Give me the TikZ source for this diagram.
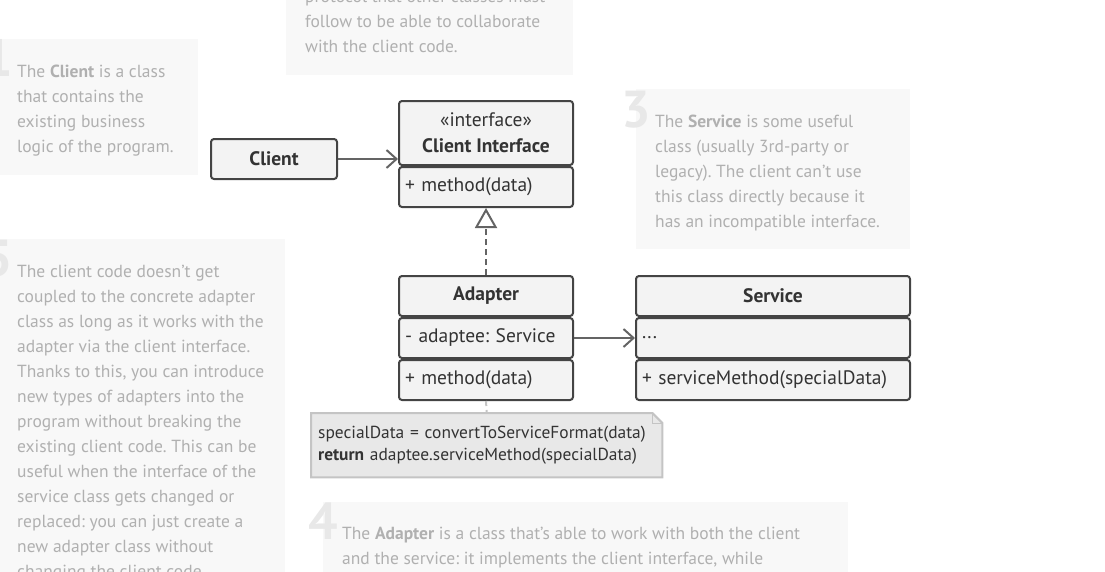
\documentclass[tikz,border=0pt]{standalone}
\usepackage{fontspec}
\setmainfont{PT Sans}
\usetikzlibrary{arrows.meta,positioning,backgrounds}

\definecolor{annofill}{RGB}{248,248,248}
\definecolor{annotext}{RGB}{176,176,176}
\definecolor{annodigit}{RGB}{232,232,232}
\definecolor{clsfill}{RGB}{243,243,243}
\definecolor{clsline}{RGB}{68,68,68}
\definecolor{clstext}{RGB}{51,51,51}
\definecolor{linkline}{RGB}{100,100,100}
\definecolor{notefill}{RGB}{232,232,232}
\definecolor{noteline}{RGB}{196,196,196}

\tikzset{
  annobox/.style={fill=annofill, draw=none},
  annotxt/.style={anchor=north west, inner sep=0, align=left, text=annotext,
    font=\fontsize{17.5}{25}\selectfont},
  annonum/.style={anchor=base east, inner sep=0, text=annodigit,
    font=\fontsize{52}{52}\selectfont\bfseries},
  cls/.style={draw=clsline, fill=clsfill, line width=2, rounded corners=3,
    minimum width=174, minimum height=40, inner sep=0, text=clstext,
    font=\fontsize{19.5}{26}\selectfont},
  clshead/.style={cls, font=\fontsize{19.5}{26}\selectfont\bfseries},
  clsrow/.style={cls, align=left, text width=162, inner xsep=6},
  notetxt/.style={anchor=north west, minimum height=64, text width=337,
    inner xsep=7, inner ysep=0, align=left, text=clstext,
    font=\fontsize{17.4}{22}\selectfont},
  link/.style={draw=linkline, line width=2},
}

\begin{document}
\frenchspacing
\begin{tikzpicture}[x=1pt, y=-1pt]
  \useasboundingbox (0,0) rectangle (1105,571);
  \clip (0,0) rectangle (1105,571);

  % notes round the diagram
  \fill[annobox] (286,-20) rectangle (573,75);
  \node[annotxt] (txttwo) at (305,-10) {protocol that other classes must\\
    follow to be able to collaborate\\with the client code.};

  \fill[annobox] (0,39) rectangle (198,175);
  \node[annonum] (numone) at (13,76) {1};
  \node[annotxt] (txtone) at (17,65) {The \textbf{Client} is a class\\
    that contains the\\existing business\\logic of the program.};

  \fill[annobox] (636,89) rectangle (910,249);
  \node[annonum] (numthree) at (651,127) {3};
  \node[annotxt] (txtthree) at (655,115) {The \textbf{Service} is some useful\\
    class (usually 3rd-party or\\legacy). The client can’t use\\
    this class directly because it\\has an incompatible interface.};

  \fill[annobox] (0,239) rectangle (285,600);
  \node[annonum] (numfive) at (13,276) {5};
  \node[annotxt] (txtfive) at (17,265) {The client code doesn’t get\\
    coupled to the concrete adapter\\class as long as it works with the\\
    adapter via the client interface.\\Thanks to this, you can introduce\\
    new types of adapters into the\\program without breaking the\\
    existing client code. This can be\\useful when the interface of the\\
    service class gets changed or\\replaced: you can just create a\\
    new adapter class without\\changing the client code.};

  \fill[annobox] (323,502) rectangle (848,600);
  \node[annonum] (numfour) at (338,539) {4};
  \node[annotxt] (txtfour) at (342,527) {The \textbf{Adapter} is a class that’s able to work with both the client\\
    and the service: it implements the client interface, while};

  % classes
  \node[clshead, minimum width=126] (client) at (274,159) {Client};

  \node[cls, minimum height=64, align=center] (cihead) at (486,133)
    {«interface»\\\textbf{Client Interface}};
  \node[clsrow, below=0 of cihead] (cimeth) {+ method(data)};

  \node[clshead] (adhead) at (486,296) {Adapter};
  \node[clsrow, below=0 of adhead] (adattr) {- adaptee: Service};
  \node[clsrow, below=0 of adattr] (admeth) {+ method(data)};

  \node[clshead, minimum width=274] (svhead) at (773,296) {Service};
  \node[clsrow, text width=262, below=0 of svhead] (svattr) {...};
  \node[clsrow, text width=262, below=0 of svattr] (svmeth) {+ serviceMethod(specialData)};

  % code note
  \node[notetxt] (note) at (311,413) {specialData = convertToServiceFormat(data)\\
    \textbf{return} adaptee.serviceMethod(specialData)};
  \begin{scope}[on background layer]
    \filldraw[fill=notefill, draw=noteline, line width=2]
      (note.north west) -- ([xshift=-10pt]note.north east)
      -- ([yshift=-10pt]note.north east) -- (note.south east)
      -- (note.south west) -- cycle;
    \draw[noteline, line width=1] ([xshift=-10pt]note.north east)
      -- ([xshift=-10pt,yshift=-10pt]note.north east) -- ([yshift=-10pt]note.north east);
  \end{scope}

  % connectors
  \draw[link, -{Straight Barb[length=10pt, width=18pt]}] (client.east) -- (client.east -| cihead.west);
  \draw[link, dash pattern=on 6pt off 4pt, -{Triangle[open, length=20pt, width=22pt, fill=white]}]
    (adhead.north) -- (cimeth.south);
  \draw[link, -{Straight Barb[length=10pt, width=18pt]}] (adattr.east) -- (svattr.west);
  \draw[noteline, line width=2, dash pattern=on 5pt off 4pt] (admeth.south) -- (note.north);
\end{tikzpicture}
\end{document}
